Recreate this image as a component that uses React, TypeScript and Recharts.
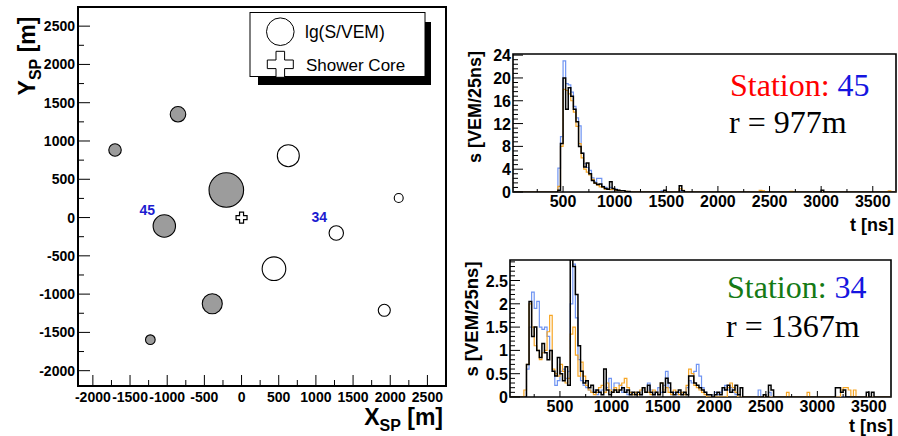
import React from 'react';
import { ScatterChart, Scatter, LineChart, Line, XAxis, YAxis, ReferenceArea } from 'recharts';

const SANS = '"Liberation Sans", Arial, Helvetica, sans-serif';
const SERIF = '"Liberation Serif", "Times New Roman", serif';

// ---------------- Station map data ----------------
const STATION_X = [-1702, -855, 629, -205, 2114, -1039, 1274, 436, -394, 1920, -1227];
const STATION_Y = [882, 1349, 808, 360, 256, -110, -202, -668, -1125, -1211, -1595];
const STATION_LG = [0.89, 1.11, 1.57, 2.47, 0.64, 1.6, 1.03, 1.69, 1.43, 0.86, 0.69];
const STATION_CANDIDATE = [true, true, false, true, false, true, false, false, true, false, true];
const STATION_ID = ['', '', '', '', '', '45', '34', '', '', '', ''];
const CORE_X = [0];
const CORE_Y = [0];

const MAP_MAJOR = [-2000, -1500, -1000, -500, 0, 500, 1000, 1500, 2000, 2500];
const MAP_MINOR = [-1750, -1250, -750, -250, 250, 750, 1250, 1750, 2250];

// ---------------- Trace data (25 ns bins, bin starts at 0) ----------------
const BIN_NS = 25;

const TOP_BLUE = [
  0,0,0,0,0,0,0,0,0,0,0,0,0,0,0,0,0,0,4.2,9.7,23,19,18.8,17.5,15,
  13,11.6,6.8,5,4.3,3.8,2.5,1.8,2.4,2.4,1.0,0.8,0.5,0.8,0.4,0.5,0.3,0.2,0.1,0,0,0,0,0,0,
  0,0,0,0,0,0,0,0,0.2,0,0,0,0,0,0,0.3,0,0,0,0,0,0,0,0,0,
  0,0,0,0,0,0,0,0,0,0,0,0,0,0,0,0,0,0,0,0,0,0,0,0,0,
  0,0,0,0,0,0,0,0,0,0,0,0,0,0,0,0,0,0,0,0,0,0,0,0,0,
  0,0,0,0,0,0,0,0,0,0,0,0,0,0,0,0,0,0,0,0,0,0,0,0,
];
const TOP_ORANGE = [
  0,0,0,0,0,0,0,0,0,0,0,0,0,0,0,0,0,0,1.0,8.0,18,17.8,17.2,16.0,14.0,
  11.5,8.5,6.0,4.0,3.5,3.0,2.2,1.5,1.2,0.9,0.8,0.5,0.5,0.4,0.5,0.3,0.3,0.2,0.2,0.1,0,0,0,0,0,
  0,0,0,0,0,0,0,0,0,0,0,0,0,0,0,0.6,0.3,0,0,0,0,0,0,0,0,
  0,0,0,0,0,0,0,0,0,0,0,0,0,0,0,0,0,0,0,0,0,0.3,0.2,0,0,
  0,0,0,0,0,0,0,0,0.1,0,0,0,0,0,0,0,0,0,0,0,0,0,0,0,0,
  0,0,0,0,0,0,0,0,0,0,0,0,0,0,0,0,0,0,0,0,0,0.2,0,0,
];
const TOP_BLACK = [
  0,0,0,0,0,0,0,0,0,0,0,0,0,0,0,0,0,0,0.3,8.5,20,14.5,18.3,16.8,14.5,
  12.3,8,6.8,4.4,5.1,3.2,2.0,1.6,1.3,1.4,0.9,0.6,0.5,1.8,0.6,0.4,0.3,0.2,0.2,0.1,0.1,0,0,0,0,
  0,0,0,0,0,0,0,0,0,0.3,0,0,0,0,0,1.1,0.2,0,0,0,0,0,0,0,0,
  0,0,0,0,0,0,0,0,0,0,0,0,0,0,0,0,0,0,0,0,0,0,0,0,0,
  0,0,0,0,0,0,0,0,0,0,0,0,0,0,0,0,0,0,0,0,0.3,0,0,0,0,
  0,0,0,0,0,0,0,0,0,0,0,0,0,0,0,0,0,0,0,0,0,0,0,0,
];

const BOT_BLUE = [
  0,0,0,0,0,0,0,0.6,1.5,2.25,1.9,2.05,1.5,1.45,1.5,1.3,1.0,0.55,0.25,0.35,0.55,0.6,0.4,0.55,2.0,
  2.85,1.7,0.8,0.35,0.25,0.2,0.15,0.1,0.15,0.05,0.1,0.15,0.1,0.2,0.4,0.15,0.3,0.3,0.25,0.1,0.15,0.05,0.1,0.05,0.1,
  0.1,0.05,0.15,0.1,0.3,0.15,0.05,0.1,0.2,0.1,0.25,0.55,0.2,0.05,0.1,0.05,0.1,0.05,0.1,0.2,0.35,0.3,0.55,0.7,0.45,
  0.2,0.1,0.05,0.05,0,0.1,0.05,0.1,0.15,0.25,0.15,0.2,0.1,0.05,0,0,0,0,0,0,0,0,0.15,0,0,
  0,0.1,0,0,0,0,0,0,0,0,0,0,0,0,0,0,0,0,0,0,0,0,0,0,0,
  0,0,0,0,0,0,0,0,0,0,0,0,0,0,0,0,0,0,0,0,0,0,0,0,
];
const BOT_ORANGE = [
  0,0,0,0,0,0,0.15,0.7,2.0,1.5,1.1,1.0,0.8,0.95,1.0,1.4,1.75,0.6,0.5,0.45,0.7,0.55,0.3,0.4,1.35,
  1.5,0.9,0.45,0.75,0.45,0.25,0.15,0.1,0.05,0.1,0.2,0.25,0.1,0.3,0.15,0.1,0.2,0.15,0.25,0.3,0.4,0.2,0.1,0.05,0.1,
  0.05,0.15,0.2,0.1,0.1,0.05,0.15,0.1,0.05,0.3,0.15,0.2,0.1,0.05,0.15,0.1,0.05,0.1,0.05,0.25,0.6,0.5,0.25,0.2,0.15,
  0.1,0.05,0,0,0,0,0,0,0,0,0.2,0.3,0.2,0.1,0,0,0,0,0,0,0,0,0,0,0,
  0,0,0,0,0,0,0,0,0.1,0,0,0,0,0,0,0,0.1,0,0,0,0,0,0,0,0,
  0,0,0,0,0.15,0.2,0.2,0.15,0,0.15,0,0,0,0,0,0,0,0,0,0,0,0,0,0,
];
const BOT_BLACK = [
  0,0,0,0,0,0,0,0.7,2.05,1.3,1.5,1.0,0.85,1.15,0.95,0.8,1.0,0.55,0.45,0.85,0.5,0.35,0.65,0.25,3.1,
  2.8,2.2,1.1,0.55,0.3,0.35,0.2,0.25,0.1,0.15,0.1,0.05,0.6,0.15,0.05,0.1,0.15,0.1,0.15,0.2,0.1,0.15,0.05,0.1,0.05,
  0.1,0.05,0.2,0.1,0.25,0.1,0.05,0.1,0.05,0.3,0.1,0.4,0.3,0.1,0.05,0.1,0.15,0.05,0.1,0.05,0.45,0.45,0.3,0.25,0.2,
  0.15,0.1,0.05,0.05,0,0.05,0.1,0.05,0.2,0.15,0.25,0.1,0.15,0.25,0.05,0.2,0,0,0,0,0,0,0,0,0.05,
  0,0.25,0.15,0,0,0,0,0,0,0,0,0,0,0,0,0,0,0,0,0,0,0,0,0,0,
  0,0,0.2,0.2,0.1,0.15,0,0,0,0,0,0,0,0,0.1,0,0.1,0,0,0,0,0,0,0,
];

const T_MAJOR = [500, 1000, 1500, 2000, 2500, 3000, 3500];
const T_TICKS = [250, 500, 750, 1000, 1250, 1500, 1750, 2000, 2250, 2500, 2750, 3000, 3250, 3500];
const TOP_Y_MAJOR = [0, 4, 8, 12, 16, 20, 24];
const BOT_Y_MAJOR = [0, 0.5, 1, 1.5, 2, 2.5];

// ---------------- Derived tables ----------------
const stations = STATION_X.map((x, i) => ({
  x, y: STATION_Y[i], lg: STATION_LG[i], candidate: STATION_CANDIDATE[i], id: STATION_ID[i],
}));
const core = CORE_X.map((x, i) => ({ x, y: CORE_Y[i] }));

function buildRows(blue: number[], orange: number[], black: number[]) {
  const rows = blue.map((b, i) => ({ t: i * BIN_NS, blue: b, orange: orange[i], black: black[i] }));
  const n = blue.length;
  rows.push({ t: n * BIN_NS, blue: blue[n - 1], orange: orange[n - 1], black: black[n - 1] });
  return rows;
}
const topRows = buildRows(TOP_BLUE, TOP_ORANGE, TOP_BLACK);
const botRows = buildRows(BOT_BLUE, BOT_ORANGE, BOT_BLACK);

const topYTicks = Array.from({ length: 31 }, (_, i) => +(i * 0.8).toFixed(2));
const botYTicks = Array.from({ length: 30 }, (_, i) => +(i * 0.1).toFixed(2));

const isIn = (arr: number[], v: number) => arr.some((a) => Math.abs(a - v) < 1e-6);

// ---------------- Shapes ----------------
const R_PER_LG = 7;

function plusPoints(cx: number, cy: number, L: number, a: number) {
  const p = [
    [cx - a, cy - L], [cx + a, cy - L], [cx + a, cy - a], [cx + L, cy - a], [cx + L, cy + a], [cx + a, cy + a],
    [cx + a, cy + L], [cx - a, cy + L], [cx - a, cy + a], [cx - L, cy + a], [cx - L, cy - a], [cx - a, cy - a],
  ];
  return p.map((q) => q.join(',')).join(' ');
}

const StationShape = (props: any) => {
  const { cx, cy, payload } = props;
  const r = payload.lg * R_PER_LG;
  return (
    <g>
      <circle cx={cx} cy={cy} r={r} fill={payload.candidate ? '#9c9c9c' : '#ffffff'} stroke="#000" strokeWidth={1.1} />
      {payload.id ? (
        <text x={cx - 17} y={cy - 11} textAnchor="middle" fontFamily={SANS} fontWeight="bold" fontSize={14} fill="#1c1cd0">
          {payload.id}
        </text>
      ) : null}
    </g>
  );
};

const CoreShape = (props: any) => {
  const { cx, cy } = props;
  return <polygon points={plusPoints(cx, cy, 5.5, 2)} fill="#fff" stroke="#000" strokeWidth={1.2} />;
};

// ---------------- Ticks ----------------
const mapXTick = (props: any) => {
  const { x, y, payload } = props;
  const major = isIn(MAP_MAJOR, payload.value);
  return (
    <g>
      <line x1={x} y1={y} x2={x} y2={y - (major ? 11 : 6)} stroke="#000" strokeWidth={1} />
      {major ? (
        <text x={x} y={y + 16} textAnchor="middle" fontFamily={SANS} fontWeight="bold" fontSize={14} fill="#000">
          {payload.value}
        </text>
      ) : null}
    </g>
  );
};
const mapYTick = (props: any) => {
  const { x, y, payload } = props;
  const major = isIn(MAP_MAJOR, payload.value);
  return (
    <g>
      <line x1={x} y1={y} x2={x + (major ? 12 : 6)} y2={y} stroke="#000" strokeWidth={1} />
      {major ? (
        <text x={x - 3} y={y + 5} textAnchor="end" fontFamily={SANS} fontWeight="bold" fontSize={14} fill="#000">
          {payload.value}
        </text>
      ) : null}
    </g>
  );
};

const makeTXTick = (labelDy: number) => (props: any) => {
  const { x, y, payload } = props;
  const major = isIn(T_MAJOR, payload.value);
  return (
    <g>
      <line x1={x} y1={y} x2={x} y2={y - (major ? 6 : 3)} stroke="#000" strokeWidth={1} />
      {major ? (
        <text x={x} y={y + labelDy} textAnchor="middle" fontFamily={SANS} fontWeight="bold" fontSize={16} fill="#000">
          {payload.value}
        </text>
      ) : null}
    </g>
  );
};
const makeYTick = (majors: number[]) => (props: any) => {
  const { x, y, payload } = props;
  const major = isIn(majors, payload.value);
  return (
    <g>
      <line x1={x} y1={y} x2={x + (major ? 10 : 5)} y2={y} stroke="#000" strokeWidth={1} />
      {major ? (
        <text x={x - 2} y={y + 6} textAnchor="end" fontFamily={SANS} fontWeight="bold" fontSize={16} fill="#000">
          {String(payload.value)}
        </text>
      ) : null}
    </g>
  );
};

// ---------------- Panels ----------------
const MAP_DOMAIN: [number, number] = [-2200, 2750];

function StationMap() {
  return (
    <ScatterChart width={450} height={436} margin={{ top: 7, right: 4, bottom: 0, left: 0 }}>
      <XAxis type="number" dataKey="x" domain={MAP_DOMAIN} allowDataOverflow ticks={[...MAP_MAJOR, ...MAP_MINOR].sort((a, b) => a - b)}
        interval={0} height={50} tickSize={0} tickMargin={0} axisLine={false} tickLine={false} tick={mapXTick} />
      <YAxis type="number" dataKey="y" domain={MAP_DOMAIN} allowDataOverflow ticks={[...MAP_MAJOR, ...MAP_MINOR].sort((a, b) => a - b)}
        interval={0} width={78} tickSize={0} tickMargin={0} axisLine={false} tickLine={false} tick={mapYTick} />
      <ReferenceArea x1={MAP_DOMAIN[0]} x2={MAP_DOMAIN[1]} y1={MAP_DOMAIN[0]} y2={MAP_DOMAIN[1]} fill="none" stroke="#000" strokeWidth={2} />
      <Scatter data={stations} shape={StationShape} isAnimationActive={false} />
      <Scatter data={core} shape={CoreShape} isAnimationActive={false} />
    </ScatterChart>
  );
}

function Trace(props: {
  rows: any[]; width: number; height: number; margin: any; xDomain: [number, number]; yDomain: [number, number];
  yTicks: number[]; yMajor: number[]; xAxisHeight: number; yAxisWidth: number; labelDy: number;
}) {
  const { rows, width, height, margin, xDomain, yDomain, yTicks, yMajor, xAxisHeight, yAxisWidth, labelDy } = props;
  return (
    <LineChart width={width} height={height} data={rows} margin={margin}>
      <XAxis type="number" dataKey="t" domain={xDomain} allowDataOverflow ticks={T_TICKS} interval={0} height={xAxisHeight}
        tickSize={0} tickMargin={0} axisLine={false} tickLine={false} tick={makeTXTick(labelDy)} />
      <YAxis type="number" domain={yDomain} allowDataOverflow ticks={yTicks} interval={0} width={yAxisWidth}
        tickSize={0} tickMargin={0} axisLine={false} tickLine={false} tick={makeYTick(yMajor)} />
      <ReferenceArea x1={xDomain[0]} x2={xDomain[1]} y1={yDomain[0]} y2={yDomain[1]} fill="none" stroke="#000" strokeWidth={1.6} />
      <Line type="stepAfter" dataKey="blue" stroke="#6f94f2" strokeWidth={1.2} dot={false} isAnimationActive={false} />
      <Line type="stepAfter" dataKey="orange" stroke="#f7a625" strokeWidth={1.2} dot={false} isAnimationActive={false} />
      <Line type="stepAfter" dataKey="black" stroke="#000000" strokeWidth={1.5} dot={false} isAnimationActive={false} />
    </LineChart>
  );
}

export default function App() {
  return (
    <div style={{ position: 'absolute', left: 0, top: 0, width: 898, height: 436, background: '#fff', overflow: 'hidden' }}>
      <div style={{ position: 'absolute', left: 0, top: 0 }}>
        <StationMap />
      </div>
      <div style={{ position: 'absolute', left: 450, top: 0 }}>
        <Trace rows={topRows} width={448} height={240} margin={{ top: 54, right: 2, bottom: 0, left: 0 }}
          xDomain={[15, 3725]} yDomain={[0, 24.2]} yTicks={topYTicks} yMajor={TOP_Y_MAJOR}
          xAxisHeight={48} yAxisWidth={63} labelDy={15} />
      </div>
      <div style={{ position: 'absolute', left: 450, top: 240 }}>
        <Trace rows={botRows} width={448} height={196} margin={{ top: 20, right: 7, bottom: 0, left: 0 }}
          xDomain={[15, 3715]} yDomain={[0, 2.94]} yTicks={botYTicks} yMajor={BOT_Y_MAJOR}
          xAxisHeight={39} yAxisWidth={60} labelDy={14.5} />
      </div>
      <svg width={898} height={436} style={{ position: 'absolute', left: 0, top: 0, pointerEvents: 'none' }}>
        {/* map legend */}
        <rect x={258} y={22} width={173} height={63} fill="#000" />
        <rect x={250} y={12.5} width={175} height={64} fill="#fff" stroke="#000" strokeWidth={1} />
        <circle cx={280.3} cy={31.7} r={13.8} fill="#fff" stroke="#000" strokeWidth={1} />
        <polygon points={plusPoints(280.3, 64.3, 13, 4.3)} fill="#fff" stroke="#000" strokeWidth={1} />
        <text x={305} y={38} fontFamily={SANS} fontSize={17.5} fill="#000">lg(S/VEM)</text>
        <text x={306} y={71} fontFamily={SANS} fontSize={17} fill="#000">Shower Core</text>
        {/* map axis titles */}
        <text x={443} y={425} textAnchor="end" fontFamily={SANS} fontWeight="bold" fontSize={23} fill="#000">
          X<tspan fontSize={16} dy={6}>SP</tspan><tspan dy={-6}> [m]</tspan>
        </text>
        <text transform="translate(35,56) rotate(-90)" textAnchor="middle" fontFamily={SANS} fontWeight="bold" fontSize={23} fill="#000">
          Y<tspan fontSize={16} dy={6}>SP</tspan><tspan dy={-6}> [m]</tspan>
        </text>
        {/* trace titles */}
        <text transform="translate(481,107) rotate(-90)" textAnchor="middle" fontFamily={SANS} fontWeight="bold" fontSize={18} fill="#000">s [VEM/25ns]</text>
        <text transform="translate(478,319) rotate(-90)" textAnchor="middle" fontFamily={SANS} fontWeight="bold" fontSize={18.5} fill="#000">s [VEM/25ns]</text>
        <text x={894} y={231} textAnchor="end" fontFamily={SANS} fontWeight="bold" fontSize={18} fill="#000">t [ns]</text>
        <text x={893} y={432} textAnchor="end" fontFamily={SANS} fontWeight="bold" fontSize={18} fill="#000">t [ns]</text>
        <text x={730} y={96} fontFamily={SERIF} fontSize={32}><tspan fill="#ff0000">Station: </tspan><tspan fill="#1515e0">45</tspan></text>
        <text x={729} y={133} fontFamily={SERIF} fontSize={32} fill="#000">r = 977m</text>
        <text x={727} y={298} fontFamily={SERIF} fontSize={32}><tspan fill="#157a15">Station: </tspan><tspan fill="#1515e0">34</tspan></text>
        <text x={726} y={337} fontFamily={SERIF} fontSize={32} fill="#000">r = 1367m</text>
      </svg>
    </div>
  );
}
